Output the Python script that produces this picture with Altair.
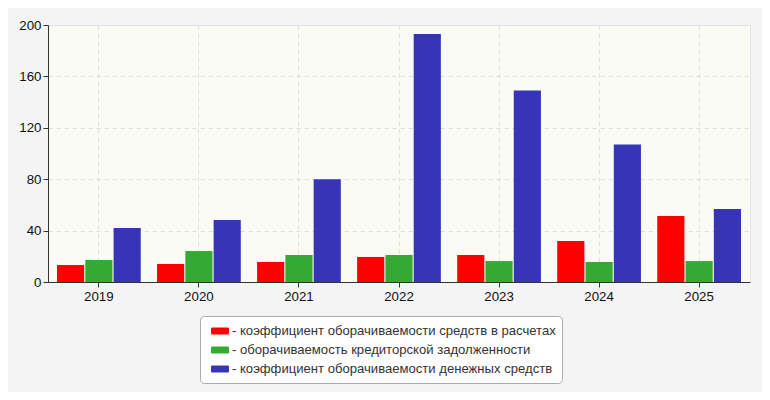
import altair as alt
import pandas as pd

years = ["2019", "2020", "2021", "2022", "2023", "2024", "2025"]
series = [
    "коэффициент оборачиваемости средств в расчетах",
    "оборачиваемость кредиторской задолженности",
    "коэффициент оборачиваемости денежных средств",
]
red_vals = [13.2, 14.0, 15.6, 19.5, 21.0, 32.0, 51.4]
green_vals = [17.1, 24.1, 21.0, 21.0, 16.3, 15.6, 16.3]
blue_vals = [42.0, 48.2, 80.0, 193.0, 149.0, 107.0, 56.8]
colors = ["#ff0000", "#34a934", "#3734b5"]
y_ticks = [0, 40, 80, 120, 160, 200]

rows = []
for name, vals in zip(series, [red_vals, green_vals, blue_vals]):
    for yr, v in zip(years, vals):
        rows.append({"year": yr, "series": name, "value": v})
df = pd.DataFrame(rows)

FONT = "Liberation Sans"
ROUND_RECT = (
    "M-0.85,-0.4H0.85A0.15,0.15 0 0 1 1,-0.25V0.25A0.15,0.15 0 0 1 0.85,0.4"
    "H-0.85A0.15,0.15 0 0 1 -1,0.25V-0.25A0.15,0.15 0 0 1 -0.85,-0.4Z"
)

chart = (
    alt.Chart(df)
    .mark_bar()
    .encode(
        x=alt.X(
            "year:N",
            sort=years,
            title=None,
            scale=alt.Scale(paddingInner=0.163, paddingOuter=0.09),
            axis=alt.Axis(
                labelAngle=0,
                grid=True,
                gridDash=[4, 4],
                gridColor="#dddddd",
                domainColor="#333333",
                tickColor="#333333",
                tickSize=5,
                labelFontSize=13.3,
                labelColor="#111111",
                labelFont=FONT,
                labelPadding=2,
            ),
        ),
        xOffset=alt.XOffset(
            "series:N", sort=series, scale=alt.Scale(paddingInner=0.04)
        ),
        y=alt.Y(
            "value:Q",
            title=None,
            scale=alt.Scale(domain=[0, 200], nice=False),
            axis=alt.Axis(
                values=y_ticks,
                grid=True,
                gridDash=[4, 4],
                gridColor="#dddddd",
                domainColor="#333333",
                tickColor="#333333",
                tickSize=5,
                labelFontSize=13.3,
                labelColor="#111111",
                labelFont=FONT,
                labelPadding=2,
            ),
        ),
        color=alt.Color(
            "series:N",
            sort=series,
            scale=alt.Scale(domain=series, range=colors),
            legend=alt.Legend(
                title=None,
                orient="none",
                legendX=152,
                legendY=291,
                direction="vertical",
                symbolType=ROUND_RECT,
                symbolSize=324,
                symbolStrokeWidth=0,
                symbolOffset=5,
                labelExpr="'- ' + datum.label + '\u00a0'",
                labelFontSize=13.1,
                labelFont=FONT,
                labelColor="#333333",
                labelLimit=0,
                labelOffset=3,
                rowPadding=2,
                padding=6,
                fillColor="#ffffff",
                strokeColor="#aaaaaa",
                cornerRadius=4,
            ),
        ),
    )
    .properties(
        width=702,
        height=257,
        autosize=alt.AutoSizeParams(type="none"),
        padding={"left": 40, "top": 17, "right": 12, "bottom": 110},
        background="#f4f4f4",
    )
    .configure_view(fill="#fbfbf6", stroke="#e4e4e4")
)

chart.save("out.html", embed_options={"renderer": "svg", "actions": False})
